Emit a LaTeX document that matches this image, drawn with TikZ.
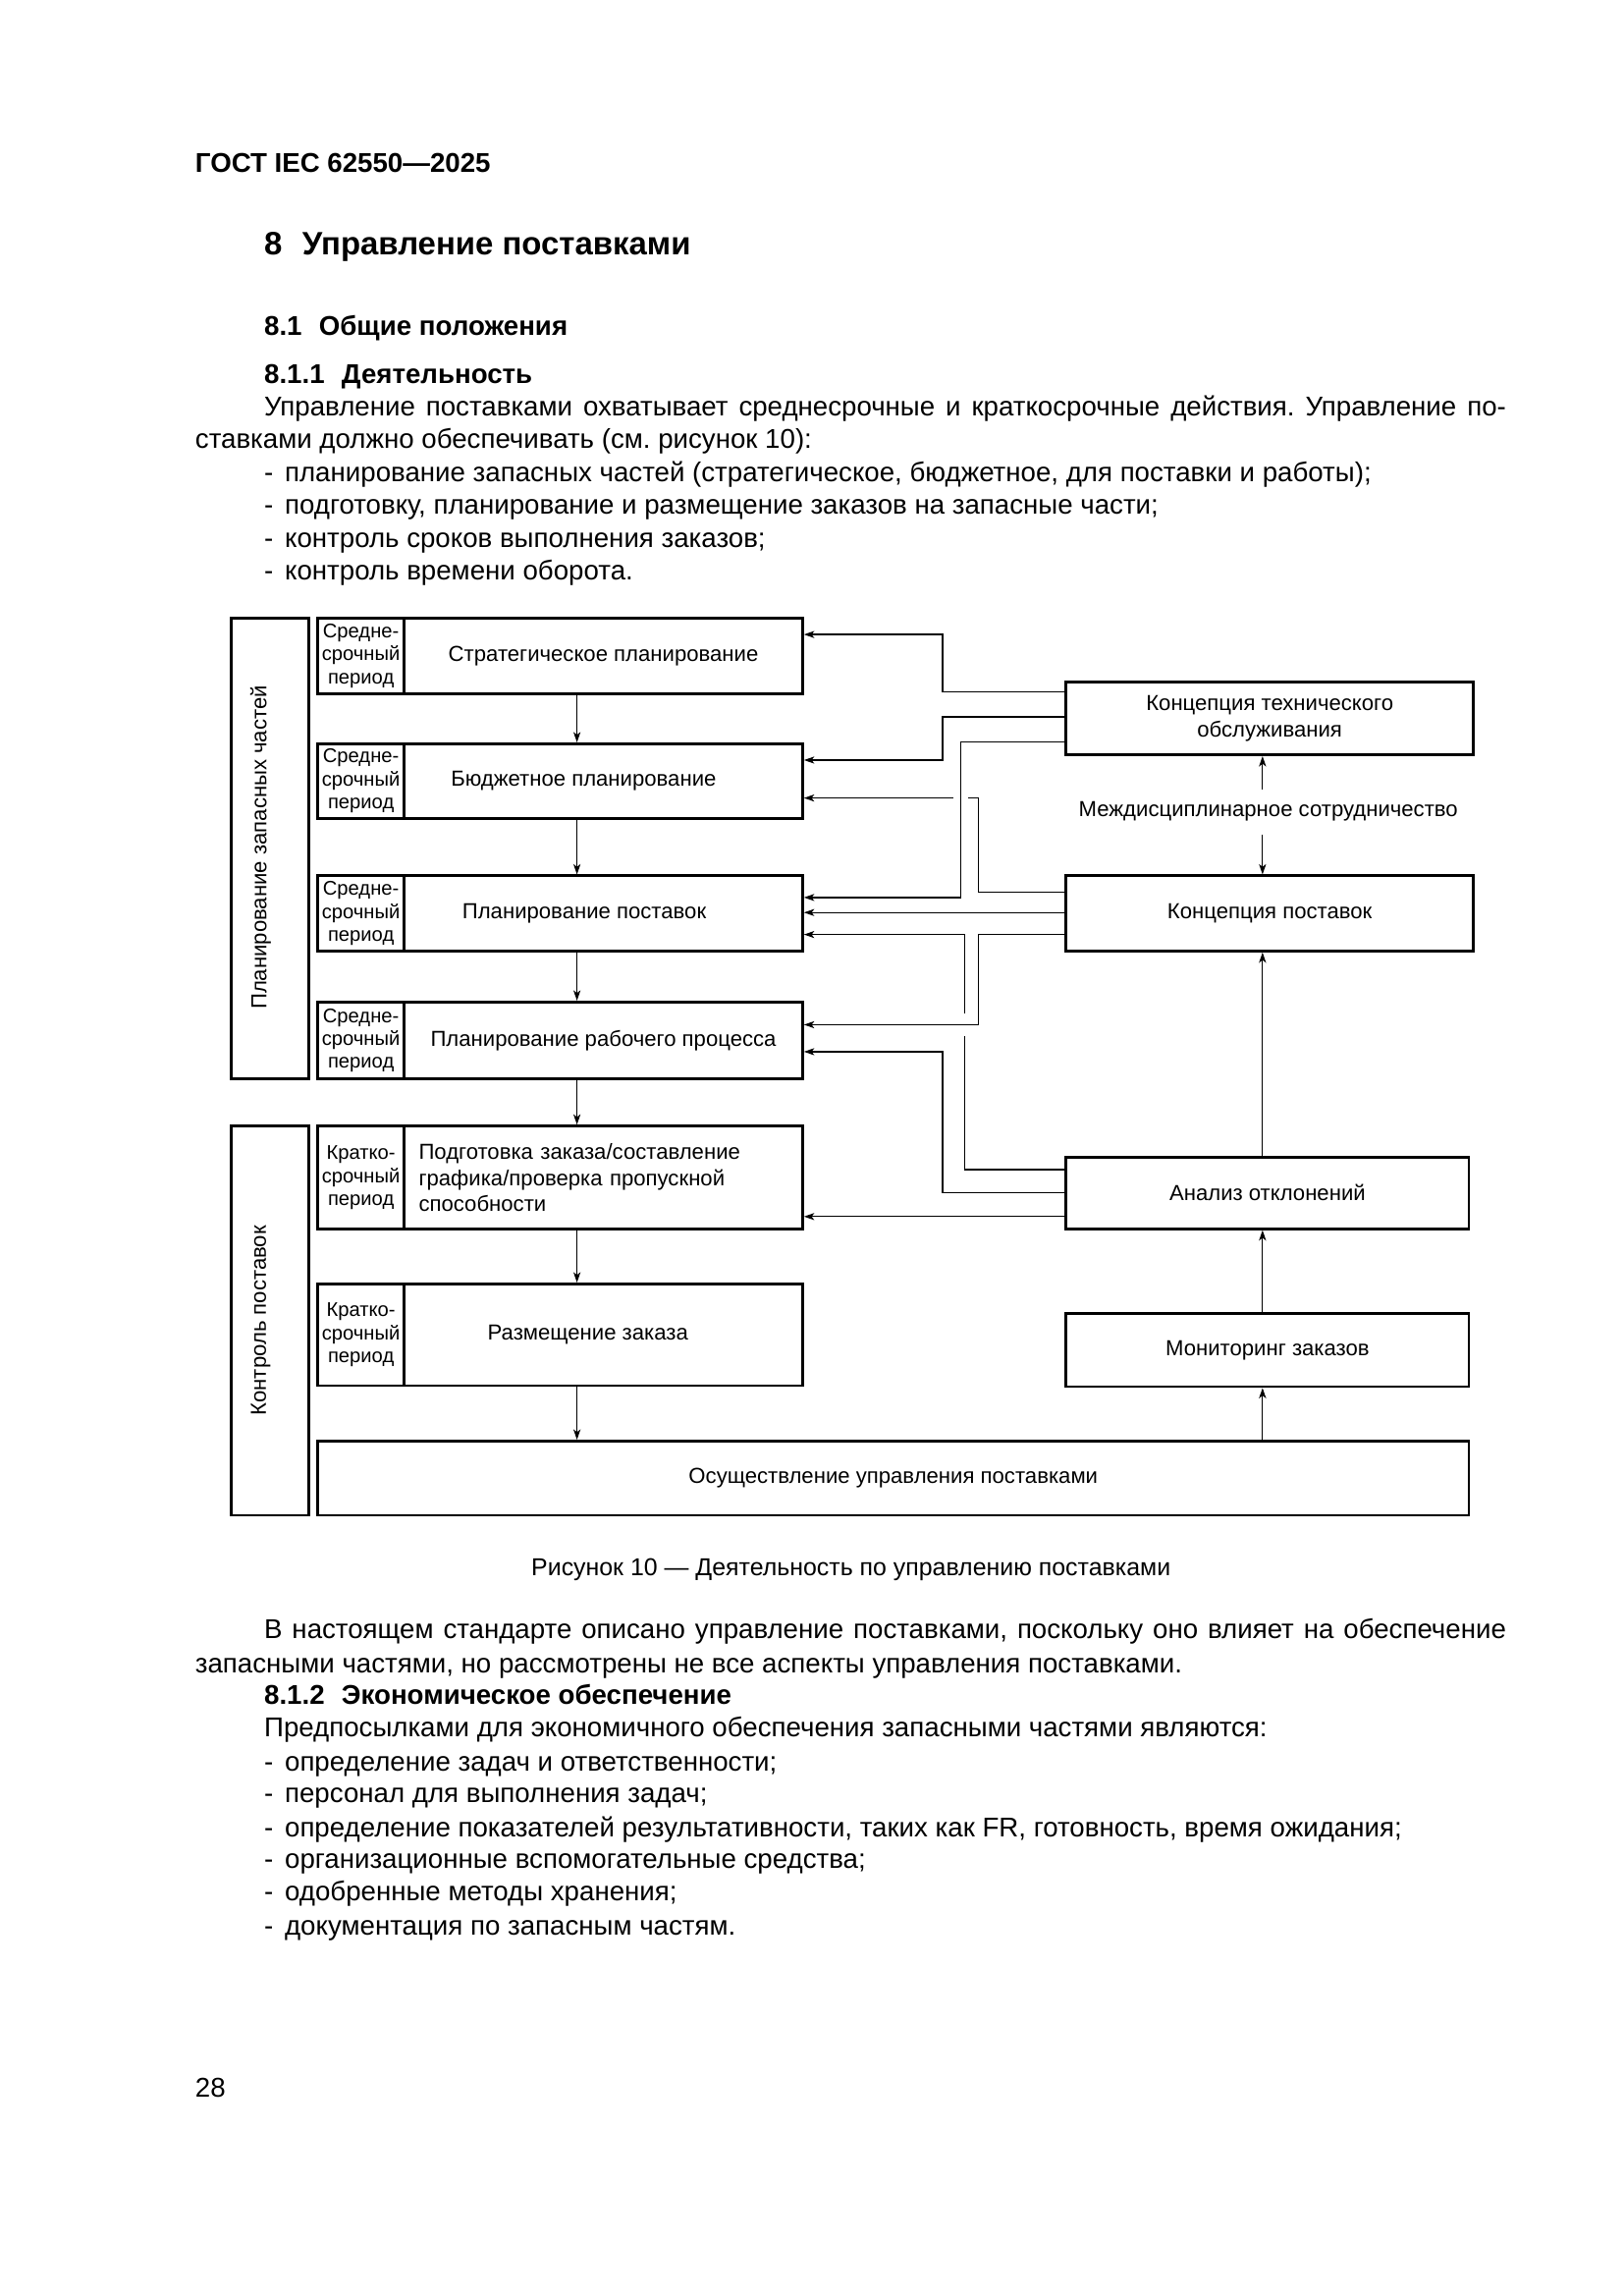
\documentclass[tikz,border=0pt]{standalone}
\usepackage{fontspec}
\setmainfont{Liberation Sans}
\usetikzlibrary{arrows.meta}
\newlength\unitpx
\setlength\unitpx{0.190909mm}
\frenchspacing
\tikzset{
    blk/.style = {draw, rectangle, line width=1pt, inner sep=0pt, anchor=north west,
        font=\fontsize{8}{9.6}\selectfont, align=center},
    period/.style = {blk, minimum width=58.6*\unitpx, font=\fontsize{7.3}{8.4}\selectfont},
    task/.style = {blk, minimum width=270*\unitpx},
    concept/.style = {blk, minimum width=275.9*\unitpx, minimum height=49.5*\unitpx},
    checkbox/.style = {blk, minimum width=272.9*\unitpx, minimum height=48.7*\unitpx},
    sidebox/.style = {blk, minimum width=52.6*\unitpx},
    sidetxt/.style = {rotate=90, inner sep=0pt, font=\fontsize{8}{10}\selectfont},
    conn/.style = {line width=0.45pt},
    txt/.style = {anchor=base west, inner sep=0pt, font=\fontsize{10}{12}\selectfont},
    head/.style = {txt, font=\fontsize{10}{12}\selectfont\bfseries},
}

\begin{document}
\begin{tikzpicture}[x=0.190909mm, y=-0.190909mm, >={Stealth[length=3.8pt,width=2.6pt,inset=1pt]}]
\useasboundingbox (0,0) rectangle (1100,1555.7);

% page text above the figure
\node[head] (gost) at (132,116.9) {ГОСТ IEC 62550—2025};
\node[head, font=\fontsize{11.9}{14}\selectfont\bfseries] (sec8) at (178.7,172.8) {8\hspace{2.6mm}Управление поставками};
\node[head] (sec81) at (178.7,227.2) {8.1\hspace{2.2mm}Общие положения};
\node[head] (sec811) at (178.7,260) {8.1.1\hspace{2.2mm}Деятельность};
\node[txt] (par1a) at (178.7,281.8) {\makebox[841.6\unitpx][s]{Управление поставками охватывает среднесрочные и краткосрочные действия. Управление по-}};
\node[txt] (par1b) at (132,303.7) {ставками должно обеспечивать (см. рисунок 10):};
\node[txt] (item1) at (178.7,326.5) {-\hspace{1.5mm}планирование запасных частей (стратегическое, бюджетное, для поставки и работы);};
\node[txt] (item2) at (178.7,348.3) {-\hspace{1.5mm}подготовку, планирование и размещение заказов на запасные части;};
\node[txt] (item3) at (178.7,371.2) {-\hspace{1.5mm}контроль сроков выполнения заказов;};
\node[txt] (item4) at (178.7,393) {-\hspace{1.5mm}контроль времени оборота.};

% left column
\node[sidebox, minimum height=312*\unitpx] (plan) at (155.8,418) {};
\node[sidetxt] (plantxt) at (176.7,574.2) {Планирование запасных частей};
\node[sidebox, minimum height=263.7*\unitpx] (ctrl) at (155.8,762) {};
\node[sidetxt] (ctrltxt) at (176.7,894.8) {Контроль поставок};

\node[period, minimum height=51*\unitpx] (per1) at (214.4,418) {Средне-\\срочный\\период};
\node[task, minimum height=51*\unitpx] (strat) at (273,418) {Стратегическое планирование};
\node[period, minimum height=50.5*\unitpx] (per2) at (214.4,503) {Средне-\\срочный\\период};
\node[task, minimum height=50.5*\unitpx] (budget) at (273,503) {\hspace*{-14.6pt}Бюджетное планирование};
\node[period, minimum height=51*\unitpx] (per3) at (214.4,592.5) {Средне-\\срочный\\период};
\node[task, minimum height=51*\unitpx] (supply) at (273,592.5) {\hspace*{-14.1pt}Планирование поставок};
\node[period, minimum height=52*\unitpx] (per4) at (214.4,678) {Средне-\\срочный\\период};
\node[task, minimum height=52*\unitpx] (work) at (273,678) {Планирование рабочего процесса};
\node[period, minimum height=70*\unitpx] (per5) at (214.4,762) {Кратко-\\срочный\\период};
\node[task, minimum height=70*\unitpx, text width=250.2*\unitpx, inner xsep=9.9*\unitpx, align=left] (prep) at (273,762) {Подготовка заказа/составление\\графика/проверка пропускной\\способности};
\node[period, minimum height=69*\unitpx] (per6) at (214.4,869) {Кратко-\\срочный\\период};
\node[task, minimum height=69*\unitpx] (place) at (273,869) {\hspace*{-11.4pt}Размещение заказа};
\node[blk, minimum width=780.1*\unitpx, minimum height=50.2*\unitpx] (impl) at (214.4,975.5) {Осуществление управления поставками};

% right column
\node[concept] (maint) at (721.6,461) {Концепция технического\\обслуживания};
\node[font=\fontsize{8}{9.6}\selectfont, inner xsep=0pt, inner ysep=4.5pt] (inter) at (859.5,550) {Междисциплинарное сотрудничество};
\node[concept, minimum height=51*\unitpx] (sconc) at (721.6,592.5) {Концепция поставок};
\node[checkbox] (dev) at (721.6,783) {Анализ отклонений};
\node[checkbox, minimum height=49.6*\unitpx] (mon) at (721.6,889) {Мониторинг заказов};

\coordinate (lx) at (391,0);
\coordinate (rx) at (855.6,0);

% planning chain
\draw[conn,->] (strat.south -| lx) -- (budget.north -| lx);
\draw[conn,->] (budget.south -| lx) -- (supply.north -| lx);
\draw[conn,->] (supply.south -| lx) -- (work.north -| lx);
\draw[conn,->] (work.south -| lx) -- (prep.north -| lx);
\draw[conn,->] (prep.south -| lx) -- (place.north -| lx);
\draw[conn,->] (place.south -| lx) -- (impl.north -| lx);

% feedback chain
\draw[conn,->] (impl.north -| rx) -- (mon.south -| rx);
\draw[conn,->] (mon.north -| rx) -- (dev.south -| rx);
\draw[conn,->] (dev.north -| rx) -- (sconc.south -| rx);
\draw[conn,->] (inter.north -| rx) -- (maint.south -| rx);
\draw[conn,->] (inter.south -| rx) -- (sconc.north -| rx);

% maintenance concept
\draw[conn,->] (maint.west |- 0,468.6) -| (638.8,429.9) -- (strat.east |- 0,429.9);
\draw[conn,->] (maint.west |- 0,485.7) -| (638.8,515) -- (budget.east |- 0,515);
\draw[conn,->] (maint.west |- 0,502.8) -| (651,608.1) -- (supply.east |- 0,608.1);

% supply concept
\draw[conn,->] (sconc.west |- 0,604.7) -| (663,540.7) -- (656,540.7) (646,540.7) -- (budget.east |- 0,540.7);
\draw[conn,->] (sconc.west |- 0,618.3) -- (supply.east |- 0,618.3);
\draw[conn,->] (sconc.west |- 0,633.2) -| (663,694.3) -- (work.east |- 0,694.3);

% deviation analysis
\draw[conn,->] (dev.west |- 0,792.4) -| (653.8,701.8) (653.8,686.8) |- (supply.east |- 0,633.2);
\draw[conn,->] (dev.west |- 0,807.9) -| (638.8,712.6) -- (work.east |- 0,712.6);
\draw[conn,->] (dev.west |- 0,824.3) -- (prep.east |- 0,824.3);

% page text below the figure
\node[txt, anchor=base, font=\fontsize{9}{11}\selectfont] (caption) at (576.7,1067.7) {Рисунок 10 — Деятельность по управлению поставками};
\node[txt] (par2a) at (178.7,1110.4) {\makebox[841.6\unitpx][s]{В настоящем стандарте описано управление поставками, поскольку оно влияет на обеспечение}};
\node[txt] (par2b) at (132,1133.2) {запасными частями, но рассмотрены не все аспекты управления поставками.};
\node[head] (sec812) at (178.7,1155.1) {8.1.2\hspace{2.2mm}Экономическое обеспечение};
\node[txt] (par3) at (178.7,1176.9) {Предпосылками для экономичного обеспечения запасными частями являются:};
\node[txt] (item5) at (178.7,1199.7) {-\hspace{1.5mm}определение задач и ответственности;};
\node[txt] (item6) at (178.7,1221.6) {-\hspace{1.5mm}персонал для выполнения задач;};
\node[txt] (item7) at (178.7,1244.4) {-\hspace{1.5mm}определение показателей результативности, таких как FR, готовность, время ожидания;};
\node[txt] (item8) at (178.7,1266.2) {-\hspace{1.5mm}организационные вспомогательные средства;};
\node[txt] (item9) at (178.7,1288.1) {-\hspace{1.5mm}одобренные методы хранения;};
\node[txt] (item10) at (178.7,1310.9) {-\hspace{1.5mm}документация по запасным частям.};
\node[txt] (pagenum) at (132,1421.1) {28};
\end{tikzpicture}
\end{document}
